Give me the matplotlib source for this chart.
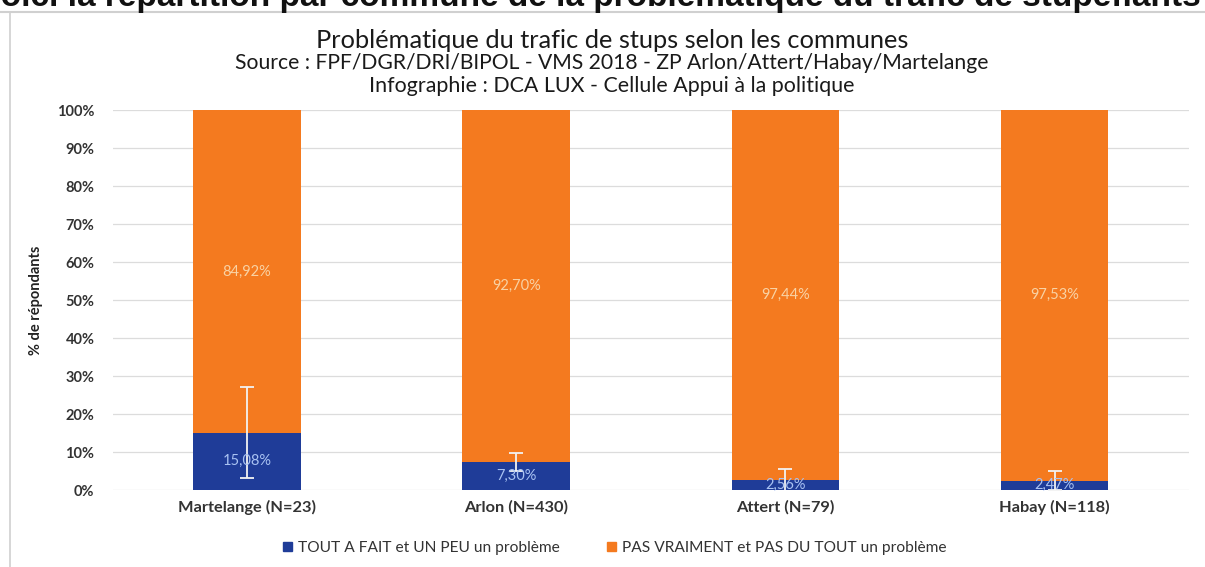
import matplotlib.pyplot as plt
from matplotlib.patches import Patch
from matplotlib.lines import Line2D

communes = ['Martelange (N=23)', 'Arlon (N=430)', 'Attert (N=79)', 'Habay (N=118)']
probleme = [15.08, 7.30, 2.56, 2.47]
pas_probleme = [84.92, 92.70, 97.44, 97.53]
erreur = [12.0, 2.4, 3.0, 2.5]
label_probleme = ['15,08%', '7,30%', '2,56%', '2,47%']
label_pas_probleme = ['84,92%', '92,70%', '97,44%', '97,53%']
yticks = list(range(0, 101, 10))

BLUE = '#1f3c98'
ORANGE = '#f47a1f'
TXT = '#333333'

plt.rcParams['font.family'] = ['Lato', 'DejaVu Sans']

fig = plt.figure(figsize=(12.05, 5.67), dpi=100)
ax = fig.add_axes([0.0934, 0.1358, 0.8934, 0.670])

x = list(range(len(communes)))
ax.bar(x, probleme, width=0.40, color=BLUE, zorder=2)
ax.bar(x, pas_probleme, width=0.40, bottom=probleme, color=ORANGE, zorder=2)
ax.errorbar(x, probleme, yerr=erreur, fmt='none', ecolor='#f2f2f2',
            elinewidth=1.3, capsize=5, capthick=1.3, zorder=3)

# labels in the middle of each segment
for i in x:
    ax.text(i, probleme[i] / 2, label_probleme[i], ha='center', va='center',
            color='#a9c2f2', fontsize=10.5, zorder=4)
    ax.text(i, probleme[i] + pas_probleme[i] / 2, label_pas_probleme[i],
            ha='center', va='center', color='#f9d2a4', fontsize=10.5, zorder=4)

# decorate plot
ax.set_xlim(-0.5, 3.5)
ax.set_ylim(0, 100)
ax.set_yticks(yticks)
ax.set_yticklabels([f'{t}%' for t in yticks], fontsize=10.5, fontweight='bold', color=TXT)
ax.set_xticks(x)
ax.set_xticklabels(communes, fontsize=11.8, fontweight='bold', color=TXT)
ax.tick_params(length=0, axis='y', pad=13)
ax.tick_params(length=0, axis='x', pad=7)
ax.grid(axis='y', color='#dcdcdc', lw=0.9, zorder=0)
for s in ax.spines.values():
    s.set_visible(False)
ax.set_ylabel('% de répondants', fontsize=10.5, color='#222222', labelpad=10,
              fontweight='bold', family=['Liberation Sans Narrow', 'Lato', 'DejaVu Sans'])

fig.text(0.508, 1 - 40 / 567, 'Problématique du trafic de stups selon les communes',
         ha='center', va='center', fontsize=18.3, color='#1a1a1a')
fig.text(0.508, 1 - 63 / 567, 'Source : FPF/DGR/DRI/BIPOL - VMS 2018 - ZP Arlon/Attert/Habay/Martelange',
         ha='center', va='center', fontsize=15.2, color='#1a1a1a')
fig.text(0.508, 1 - 86 / 567, 'Infographie : DCA LUX - Cellule Appui à la politique',
         ha='center', va='center', fontsize=15.4, color='#1a1a1a')

# clipped heading of the page above the chart
fig.text(0.49, 1 - 6 / 567, 'Voici la répartition par commune de la problématique du trafic de stupéfiants',
         ha='center', va='baseline', fontsize=24, fontweight='bold', color='#111111',
         family=['Liberation Sans', 'DejaVu Sans'])

# chart frame
fig.add_artist(Line2D([0, 1], [1 - 12 / 567] * 2, color='#d0d0d0', lw=1.5))
fig.add_artist(Line2D([10 / 1205] * 2, [0, 1 - 12 / 567], color='#d0d0d0', lw=1.2))

handles = [Patch(color=BLUE, label='TOUT A FAIT et UN PEU un problème'),
           Patch(color=ORANGE, label='PAS VRAIMENT et PAS DU TOUT un problème')]
fig.legend(handles=handles, loc='center', bbox_to_anchor=(0.51, 1 - 548 / 567), ncol=2,
           frameon=False, fontsize=11.2, handlelength=0.6, handleheight=0.6,
           handletextpad=0.4, columnspacing=3.0, labelcolor=TXT)

fig.savefig('out.png', dpi=100)
